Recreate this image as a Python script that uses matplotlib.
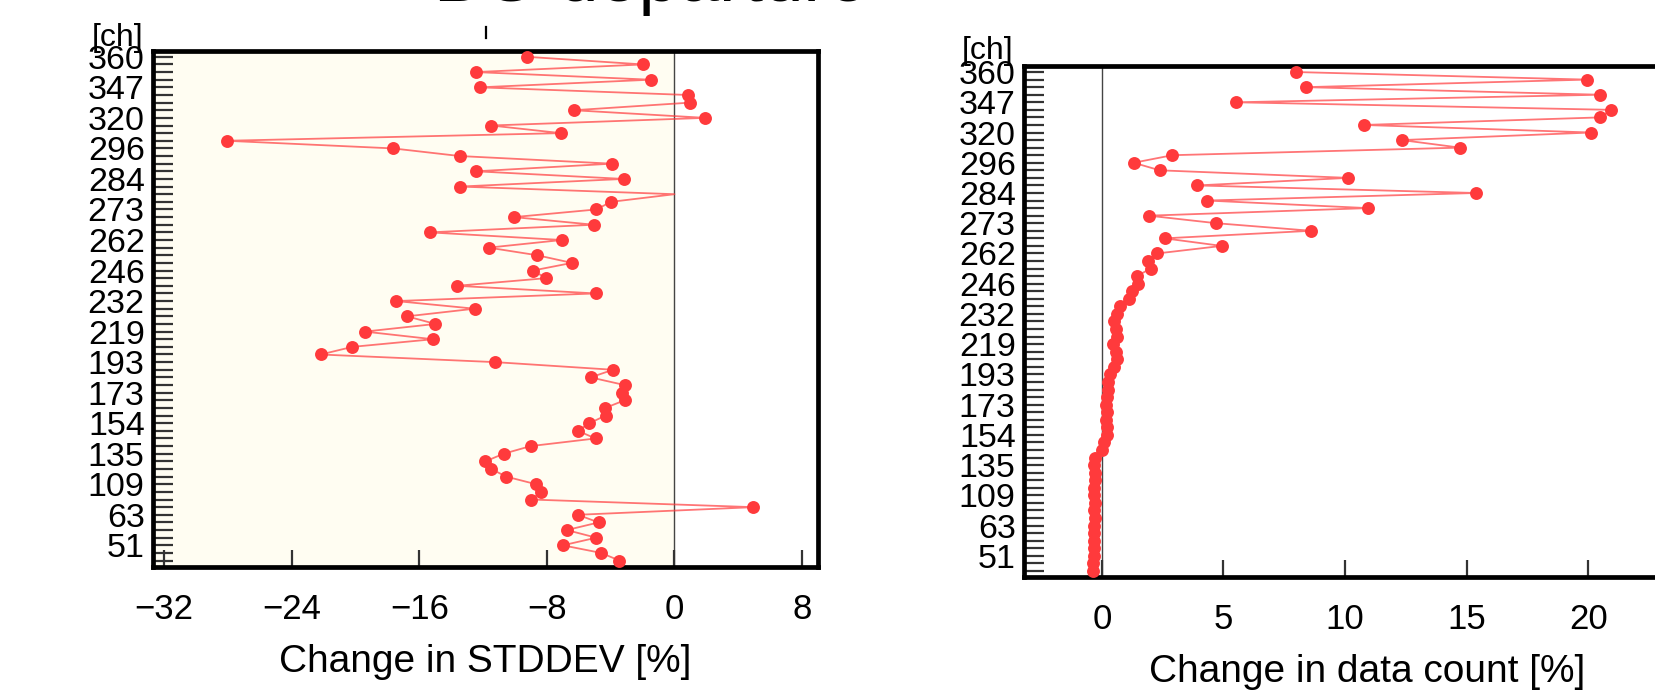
import numpy as np
import matplotlib
matplotlib.use("Agg")
import matplotlib.pyplot as plt
from matplotlib.lines import Line2D

plt.rcParams['font.family'] = ['Liberation Sans', 'DejaVu Sans']

# channel labels shown on the y axis (every 4th channel, top to bottom)
ch_labels = ["360", "347", "320", "296", "284", "273", "262", "246", "232",
             "219", "193", "173", "154", "135", "109", "63", "51"]

# change in STDDEV [%], one value per channel, top to bottom
stddev_change = [-9.25, -1.98, -12.47, -1.50, -12.22, 0.83, 1.0, -6.31, 1.94, -11.49, -7.12,
                 -28.09, -17.65, -13.47, -3.93, -12.43, -3.18, -13.45, 0.0, -3.97, -4.91,
                 -10.07, -5.06, -15.35, -7.06, -11.65, -8.60, -6.43, -8.88, -8.04, -13.64,
                 -4.95, -17.44, -12.53, -16.77, -14.99, -19.42, -15.14, -20.2, -22.18, -11.24,
                 -3.86, -5.26, -3.13, -3.30, -3.13, -4.34, -4.32, -5.33, -6.06, -4.95,
                 -9.02, -10.71, -11.86, -11.49, -10.55, -8.67, -8.35, -8.98, 4.95, -6.06,
                 -4.76, -6.75, -4.91, -7.0, -4.59, -3.45]
no_marker = [18]

# change in data count [%], top to bottom
count_change = [7.99, 19.93, 8.39, 20.46, 5.52, 20.94, 20.48, 10.77, 20.11, 12.33, 14.72,
                2.90, 1.31, 2.38, 10.13, 3.92, 15.37, 4.34, 10.93, 1.93, 4.71,
                8.60, 2.58, 4.93, 2.27, 1.89, 2.01, 1.43, 1.50, 1.26, 1.10,
                0.73, 0.62, 0.49, 0.60, 0.62, 0.46, 0.60, 0.62, 0.49, 0.33,
                0.26, 0.24, 0.20, 0.17, 0.20, 0.17, 0.20, 0.20, 0.09, 0.02,
                -0.30, -0.32, -0.30, -0.28, -0.31, -0.33, -0.30, -0.32, -0.30, -0.31,
                -0.33, -0.32, -0.34, -0.33, -0.35, -0.35]

W, H = 1655, 691
RED = "#ff3a3c"

fig = plt.figure(figsize=(W / 100, H / 100), dpi=100)

def frac(x0, y0, x1, y1):
    return [x0 / W, 1 - y1 / H, (x1 - x0) / W, (y1 - y0) / H]

def style_axes(ax, vals, xlim, xticks, xlabel, mark_idx=None):
    n = len(vals)
    y = np.arange(n)[::-1]
    ax.axvline(0, color="#444444", lw=1.0, zorder=1)
    mk = [i for i in range(n) if mark_idx is None or i not in mark_idx]
    ax.plot(vals, y, color=RED, lw=1.3, alpha=0.7, zorder=2)
    ax.plot(np.array(vals)[mk], y[mk], "o", color=RED, ms=9.3, mew=0, zorder=3)
    ax.set_xlim(*xlim)
    ax.set_ylim(-0.8, n - 1 + 0.8)
    ax.set_xticks(xticks)
    ax.set_yticks(y[::4])
    ax.set_yticklabels(ch_labels)
    ax.set_yticks(y, minor=True)
    ax.tick_params(axis="y", which="both", direction="in", length=14.5, width=1.6,
                   color="#333333", labelsize=24.5, pad=6)
    ax.tick_params(axis="x", direction="in", length=12.5, width=1.6, color="#333333",
                   labelsize=25, pad=19)
    ax.set_xlabel(xlabel, fontsize=28, labelpad=13)
    for s in ax.spines.values():
        s.set_linewidth(3.4)
        s.set_color("black")

# left panel: STDDEV change
ax1 = fig.add_axes(frac(153, 50.7, 818, 566.7))
ax1.axvspan(-32.7, 0, color="#fffdf2", zorder=0)
style_axes(ax1, stddev_change, (-32.7, 9), [-32, -24, -16, -8, 0, 8],
           "Change in STDDEV [%]", no_marker)

# right panel: data count change (runs off the right edge of the page)
ax2 = fig.add_axes(frac(1024, 66, 1710, 577))
style_axes(ax2, count_change, (-3.2, 24), [0, 5, 10, 15, 20, 25],
           "Change in data count [%]")

fig.text(143 / W, 1 - 53 / H, "[ch]", ha="right", va="bottom", fontsize=23)
fig.text(1013 / W, 1 - 66 / H, "[ch]", ha="right", va="bottom", fontsize=23)

# title, mostly cut off by the top edge
fig.text(651 / W, 1 - 0.5 / H, "BG departure", ha="center", va="baseline", fontsize=52)
fig.add_artist(Line2D([486 / W, 486 / W], [1 - 27 / H, 1 - 38 / H], color="black",
                      lw=1.6, transform=fig.transFigure))

fig.savefig("out.png", dpi=100)
